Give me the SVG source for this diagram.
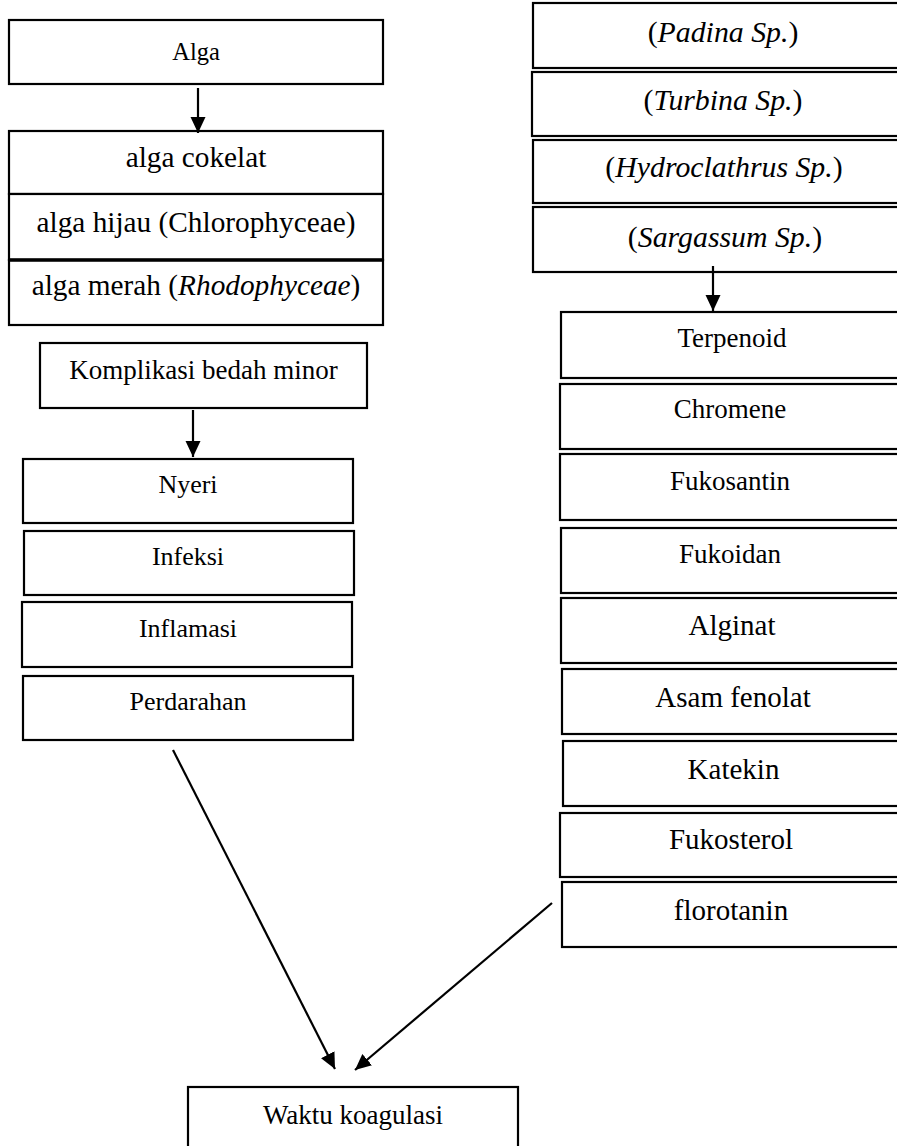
<svg xmlns="http://www.w3.org/2000/svg" width="897" height="1146" viewBox="0 0 897 1146">
<defs>
<style>
.box{fill:#fff;stroke:#000;stroke-width:2.2}
.t{font-family:"Liberation Serif","Times New Roman",serif;fill:#000;text-anchor:middle}
.s24{font-size:24.5px}.s25{font-size:26px}.s26{font-size:27px}.s28{font-size:29.3px}.s29{font-size:29px}.s30{font-size:29.8px}
.i{font-style:italic}
.c{fill:none;stroke:#000;stroke-width:2.2}
</style>
<marker id="ah" markerUnits="userSpaceOnUse" markerWidth="18" markerHeight="18" viewBox="0 0 18 18" refX="16" refY="9" orient="auto">
<path d="M0,1.5 L16,9 L0,16.5 Z" fill="#000"/>
</marker>
</defs>
<rect width="897" height="1146" fill="#fff"/>
<g id="alga"><rect class="box" x="9" y="20" width="374" height="64"/><text class="t s24" x="196" y="60">Alga</text></g>
<g id="alga-types">
<rect class="box" x="9" y="131" width="374" height="63"/>
<rect class="box" x="9" y="194" width="374" height="66"/>
<rect class="box" x="9" y="260" width="374" height="65"/>
<line x1="9" y1="260" x2="383" y2="260" stroke="#000" stroke-width="3.5"/>
<text class="t s28" x="196" y="167">alga cokelat</text>
<text class="t s28" x="196" y="232">alga hijau (Chlorophyceae)</text>
<text class="t s28" x="196" y="295">alga merah (<tspan class="i">Rhodophyceae</tspan>)</text>
</g>
<g id="komplikasi"><rect class="box" x="40" y="343" width="327" height="65"/><text class="t s26" x="203.5" y="379">Komplikasi bedah minor</text></g>
<g id="nyeri"><rect class="box" x="23" y="459" width="330" height="64"/><text class="t s25" x="188" y="493">Nyeri</text></g>
<g id="infeksi"><rect class="box" x="24" y="531" width="330" height="64"/><text class="t s25" x="188" y="565">Infeksi</text></g>
<g id="inflamasi"><rect class="box" x="22" y="602" width="330" height="65"/><text class="t s25" x="188" y="637">Inflamasi</text></g>
<g id="perdarahan"><rect class="box" x="23" y="676" width="330" height="64"/><text class="t s25" x="188" y="710">Perdarahan</text></g>
<g id="padina"><rect class="box" x="533" y="3" width="390" height="65"/><text class="t s30" x="723" y="42">(<tspan class="i">Padina Sp.</tspan>)</text></g>
<g id="turbina"><rect class="box" x="532" y="72" width="390" height="64"/><text class="t s30" x="723" y="110">(<tspan class="i">Turbina Sp.</tspan>)</text></g>
<g id="hydroclathrus"><rect class="box" x="533" y="140" width="390" height="63"/><text class="t s30" x="724" y="177">(<tspan class="i">Hydroclathrus Sp.</tspan>)</text></g>
<g id="sargassum"><rect class="box" x="533" y="207" width="390" height="65"/><text class="t s30" x="725" y="247">(<tspan class="i">Sargassum Sp.</tspan>)</text></g>
<g id="terpenoid"><rect class="box" x="561" y="312" width="350" height="66"/><text class="t s26" x="732" y="347">Terpenoid</text></g>
<g id="chromene"><rect class="box" x="560" y="384" width="350" height="65"/><text class="t s26" x="730" y="418">Chromene</text></g>
<g id="fukosantin"><rect class="box" x="560" y="454" width="350" height="66"/><text class="t s26" x="730" y="490">Fukosantin</text></g>
<g id="fukoidan"><rect class="box" x="561" y="528" width="350" height="65"/><text class="t s26" x="730" y="563">Fukoidan</text></g>
<g id="alginat"><rect class="box" x="561" y="598" width="350" height="65"/><text class="t s29" x="732" y="635">Alginat</text></g>
<g id="asam-fenolat"><rect class="box" x="562" y="669" width="350" height="65"/><text class="t s29" x="733" y="707">Asam fenolat</text></g>
<g id="katekin"><rect class="box" x="563" y="741" width="350" height="65"/><text class="t s29" x="733.5" y="779">Katekin</text></g>
<g id="fukosterol"><rect class="box" x="560" y="813" width="350" height="64"/><text class="t s29" x="731" y="849">Fukosterol</text></g>
<g id="florotanin"><rect class="box" x="562" y="882" width="350" height="65"/><text class="t s29" x="731" y="920">florotanin</text></g>
<g id="waktu"><rect class="box" x="188" y="1087" width="330" height="70"/><text class="t s26" x="353" y="1124">Waktu koagulasi</text></g>
<g id="connectors">
<line class="c" x1="198" y1="88" x2="198" y2="133" marker-end="url(#ah)"/>
<line class="c" x1="713" y1="266" x2="713" y2="311" marker-end="url(#ah)"/>
<line class="c" x1="193" y1="410" x2="193" y2="457" marker-end="url(#ah)"/>
<line class="c" x1="173" y1="750" x2="335" y2="1069" marker-end="url(#ah)"/>
<line class="c" x1="552" y1="903" x2="355" y2="1070" marker-end="url(#ah)"/>
</g>
</svg>
